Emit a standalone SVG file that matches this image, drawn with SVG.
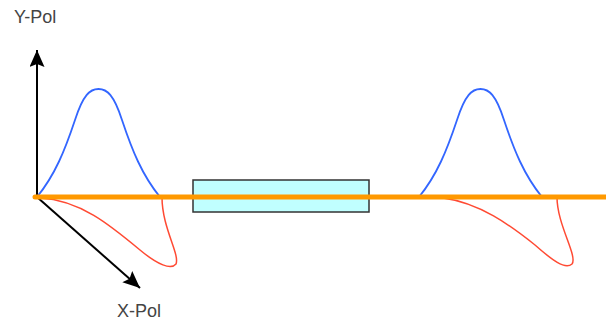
<svg xmlns="http://www.w3.org/2000/svg" width="606" height="322" viewBox="0 0 606 322">
  <style>
    .label { font-family: "Liberation Sans", Arial, sans-serif; font-size: 18px; fill: #444; }
    .axis { stroke: #000; stroke-width: 2; fill: none; }
    .ypulse { stroke: #3366ff; stroke-width: 1.8; fill: none; }
    .xpulse { stroke: #ff4a33; stroke-width: 1.5; fill: none; }
    .beam { stroke: #ff9900; stroke-width: 5; stroke-linecap: round; fill: none; }
    .fiber { fill: #c0ffff; stroke: #333; stroke-width: 1.5; }
  </style>
  <defs>
    <marker id="arrow" viewBox="0 0 17 15" markerWidth="17" markerHeight="15" refX="17" refY="7.5" orient="auto" markerUnits="userSpaceOnUse">
      <path d="M0,0 L17,7.5 L0,15 L3,7.5 z" fill="#000"/>
    </marker>
  </defs>

  <!-- polarisation axes -->
  <g id="axes">
    <line class="axis" x1="37" y1="197" x2="37" y2="50" marker-end="url(#arrow)"/>
    <line class="axis" x1="37" y1="197" x2="140" y2="288" marker-end="url(#arrow)"/>
  </g>
  <text id="y-label" class="label" x="14" y="23">Y-Pol</text>
  <text id="x-label" class="label" x="117" y="317">X-Pol</text>

  <!-- input pulse -->
  <g id="pulse-in">
    <path class="ypulse" d="M37,197 C55,175 65,150 75,120 C83,95 90,89 98.5,89 C107,89 114,95 122,120 C132,150 142,175 160,197"/>
    <path class="xpulse" d="M40,198 C80,200 110,225 140,250 C158,265 171,270 176,264 C180,254 162,228 162,197"/>
  </g>

  <!-- output pulse -->
  <g id="pulse-out">
    <path class="ypulse" d="M419,197 C437,175 447,150 457,120 C465,95 472,89 480.5,89 C489,89 496,95 504,120 C514,150 524,175 542,197"/>
    <path class="xpulse" d="M443,198 C480,203 510,225 535,245 C552,260 565,270 572,264 C578,256 557,225 557,197"/>
  </g>

  <!-- fibre section -->
  <g id="fiber">
    <rect class="fiber" x="193" y="180" width="176" height="32"/>
  </g>

  <!-- propagation axis -->
  <g id="connectors">
    <line class="beam" x1="35" y1="197" x2="606" y2="197"/>
  </g>
</svg>
